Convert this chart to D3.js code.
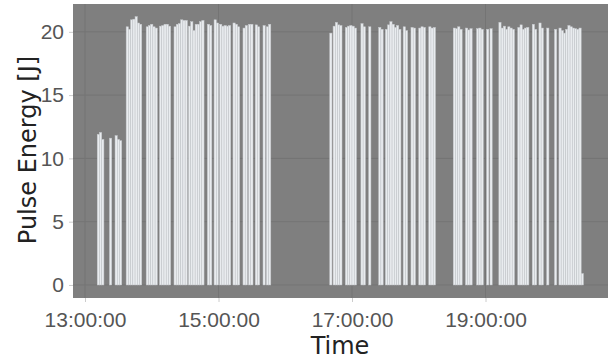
<!DOCTYPE html>
<html>
<head>
<meta charset="utf-8">
<script src="https://cdn.jsdelivr.net/npm/d3@7"></script>
<style>
  html, body { margin: 0; padding: 0; background: #fff; }
  svg { display: block; font-family: 'DejaVu Sans', Verdana, sans-serif; }
</style>
</head>
<body>
<svg id="chart" width="608" height="360"></svg>
<script>
// sample times (HH:MM, same day) and pulse energy in J
const times = [
  '13:12', '13:14', '13:16', '13:23', '13:28', '13:30', '13:32',
  '13:38', '13:40', '13:42', '13:44', '13:46', '13:48', '13:50',
  '13:56', '13:58', '14:00', '14:02', '14:04',
  '14:08', '14:10', '14:12', '14:14', '14:16',
  '14:21', '14:23', '14:25', '14:27', '14:29', '14:31',
  '14:34', '14:36', '14:38', '14:40', '14:42', '14:44', '14:46',
  '14:51', '14:53', '14:57', '14:59',
  '15:02', '15:04', '15:06', '15:08', '15:10',
  '15:14', '15:16', '15:18', '15:23', '15:25', '15:28', '15:30',
  '15:34', '15:36', '15:41', '15:44', '15:46',
  '16:41', '16:44', '16:46', '16:48', '16:50',
  '16:55', '16:57', '16:59', '17:01', '17:03',
  '17:09', '17:11', '17:16', '17:25', '17:27',
  '17:31', '17:33', '17:35', '17:37', '17:39', '17:41', '17:43',
  '17:47', '17:49', '17:54', '17:56',
  '18:01', '18:03', '18:05', '18:10', '18:12', '18:14',
  '18:32', '18:34', '18:36', '18:38', '18:43', '18:45', '18:47',
  '18:53', '18:55', '18:57', '19:02', '19:05',
  '19:13', '19:15', '19:17', '19:19', '19:21', '19:23', '19:25',
  '19:30', '19:32', '19:34', '19:36', '19:38',
  '19:43', '19:45', '19:49', '19:51', '19:56', '20:03',
  '20:07', '20:09', '20:11', '20:13', '20:15', '20:17',
  '20:19', '20:21', '20:23', '20:25', '20:27'
]
const energy = [
  11.9, 12.05, 11.5, 11.6, 11.8, 11.5, 11.4,
  20.4, 20.2, 20.95, 21.0, 21.2, 20.7, 20.6,
  20.4, 20.5, 20.6, 20.4, 20.3,
  20.45, 20.5, 20.6, 20.6, 20.45,
  20.4, 20.6, 20.65, 20.95, 20.9, 20.9,
  20.45, 20.8, 20.1, 20.6, 20.6, 20.8, 20.9,
  20.6, 20.5, 20.95, 20.7,
  20.6, 20.45, 20.5, 20.45, 20.5,
  20.7, 20.6, 20.4, 20.3, 20.5, 20.6, 20.6,
  20.55, 20.4, 20.5, 20.4, 20.6,
  19.9, 20.45, 20.75, 20.55, 20.5,
  20.35, 20.45, 20.5, 20.45, 20.3,
  20.65, 20.4, 20.4, 20.35, 20.2,
  20.2, 20.55, 20.8, 20.6, 20.35, 20.5, 20.2,
  20.4, 20.1, 20.35, 20.3,
  20.3, 20.4, 20.35, 20.4, 20.3, 20.35,
  20.3, 20.25, 20.4, 20.2, 20.3, 20.15, 20.25,
  20.25, 20.3, 20.2, 20.2, 20.25,
  20.75, 20.3, 20.45, 20.2, 20.4, 20.3, 20.2,
  20.35, 20.55, 20.2, 20.3, 20.35,
  20.6, 20.2, 20.7, 20.3, 20.3, 20.2,
  20.3, 20.1, 19.9, 20.2, 20.5, 20.4,
  20.3, 20.25, 20.2, 20.3, 0.9
]
const xTicks = ['13:00', '15:00', '17:00', '19:00']
const yTicks = [0, 5, 10, 15, 20]

const width = 608
const height = 360
const margin = {top: 4, right: 0, bottom: 62, left: 73}

const parseTime = d3.timeParse('%H:%M:%S')
const toDate = s => parseTime(s.length === 5 ? s + ':00' : s)

const data = times.map((t, i) => ({time: toDate(t), value: energy[i]}))

const svg = d3.select('#chart')

// scales
const x = d3.scaleTime()
  .domain([toDate('12:49:13'), toDate('20:50:06')])
  .range([margin.left, width - margin.right])

const y = d3.scaleLinear()
  .domain([-1.03, 22.2])
  .range([height - margin.bottom, margin.top])

// panel background
svg.append('rect')
  .attr('x', margin.left)
  .attr('y', margin.top)
  .attr('width', width - margin.left - margin.right)
  .attr('height', height - margin.top - margin.bottom)
  .attr('fill', '#7f7f7f')

// grid
const grid = svg.append('g').attr('stroke', '#747474').attr('stroke-width', 1)
grid.selectAll('line.gx')
  .data(xTicks.map(toDate))
  .join('line')
  .attr('class', 'gx')
  .attr('x1', d => x(d)).attr('x2', d => x(d))
  .attr('y1', margin.top).attr('y2', height - margin.bottom)
grid.selectAll('line.gy')
  .data(yTicks)
  .join('line')
  .attr('class', 'gy')
  .attr('x1', margin.left).attr('x2', width - margin.right)
  .attr('y1', d => y(d)).attr('y2', d => y(d))

// bars, 2 min wide, centred on the sample time
svg.append('g')
  .selectAll('rect')
  .data(data)
  .join('rect')
  .attr('x', d => x(d3.timeMinute.offset(d.time, -1)))
  .attr('width', d => x(d3.timeMinute.offset(d.time, 1)) - x(d3.timeMinute.offset(d.time, -1)))
  .attr('y', d => y(d.value))
  .attr('height', d => y(0) - y(d.value))
  .attr('fill', '#e9ecef')
  .attr('stroke', '#c4c7cb')
  .attr('stroke-width', 0.5)

// axes
const xAxis = g => g
  .attr('transform', `translate(0,${height - margin.bottom})`)
  .call(d3.axisBottom(x)
    .tickValues(xTicks.map(toDate))
    .tickFormat(d3.timeFormat('%H:%M:%S'))
    .tickSize(4)
    .tickPadding(10))
  .call(g => g.select('.domain').remove())
  .call(g => g.selectAll('.tick line').attr('stroke', '#cccccc'))
  .call(g => g.selectAll('.tick text').attr('fill', '#555').attr('font-size', 21))

const yAxis = g => g
  .attr('transform', `translate(${margin.left},0)`)
  .call(d3.axisLeft(y)
    .tickValues(yTicks)
    .tickSize(4)
    .tickPadding(5))
  .call(g => g.select('.domain').remove())
  .call(g => g.selectAll('.tick line').attr('stroke', '#cccccc'))
  .call(g => g.selectAll('.tick text').attr('fill', '#555').attr('font-size', 21))

svg.append('g').call(xAxis)
svg.append('g').call(yAxis)

// axis titles
svg.append('text')
  .attr('x', 340)
  .attr('y', 354)
  .attr('text-anchor', 'middle')
  .attr('fill', '#222')
  .attr('font-size', 24)
  .text('Time')

svg.append('text')
  .attr('transform', `translate(36,150) rotate(-90)`)
  .attr('text-anchor', 'middle')
  .attr('fill', '#222')
  .attr('font-size', 24)
  .text('Pulse Energy [J]')
</script>
</body>
</html>
